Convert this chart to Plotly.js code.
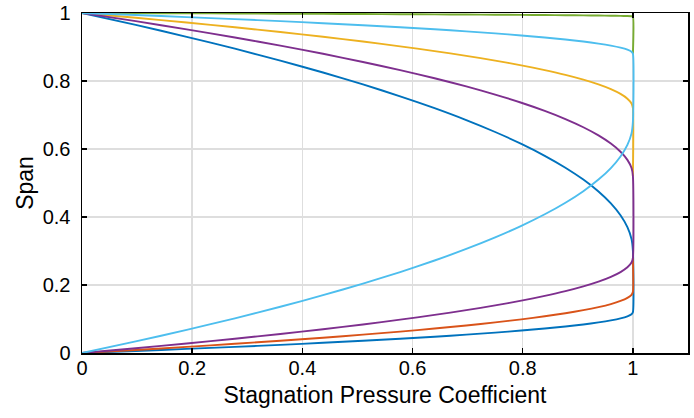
<!DOCTYPE html>
<html>
<head>
<meta charset="utf-8">
<script src="https://cdn.plot.ly/plotly-3.0.1.min.js"></script>
<style>html,body{margin:0;padding:0;background:#fff;}#chart{width:694px;height:418px;}</style>
</head>
<body>
<div id="chart"></div>
<script>
// Stagnation pressure coefficient values along each profile
const profileX = [0, 0.0975, 0.19, 0.2775, 0.36, 0.4375, 0.51, 0.5775, 0.64, 0.6975, 0.75, 0.7975, 0.84, 0.8775, 0.91, 0.9375, 0.96, 0.9775, 0.99, 0.9975, 1];

// Span values, hub-side branches (from 0 at x=0 up to the wall edge at x=1)
const blueHubY   = [0, .006, .012, .018, .024, .03, .036, .042, .048, .054, .06, .066, .072, .078, .084, .09, .096, .102, .108, .114, .12];
const orangeHubY = [0, .009, .018, .027, .036, .045, .054, .063, .072, .081, .09, .099, .108, .117, .126, .135, .144, .153, .162, .171, .18];
const purpleHubY = [0, .014, .028, .042, .056, .07, .084, .098, .112, .126, .14, .154, .168, .182, .196, .21, .224, .238, .252, .266, .28];
const cyanHubY   = [0, .034, .068, .102, .136, .17, .204, .238, .272, .306, .34, .374, .408, .442, .476, .51, .544, .578, .612, .646, .68];

// Span values, tip-side branches (from 1 at x=0 down to the wall edge at x=1)
const blueTipY   = [1, .965, .93, .895, .86, .825, .79, .755, .72, .685, .65, .615, .58, .545, .51, .475, .44, .405, .37, .335, .30];
const yellowTipY = [1, .986, .972, .958, .944, .93, .916, .902, .888, .874, .86, .846, .832, .818, .804, .79, .776, .762, .748, .734, .72];
const purpleTipY = [1, .976, .952, .928, .904, .88, .856, .832, .808, .784, .76, .736, .712, .688, .664, .64, .616, .592, .568, .544, .52];
const greenTipY  = [1, .9995, .999, .9985, .998, .9975, .997, .9965, .996, .9955, .995, .9945, .994, .9935, .993, .9925, .992, .9915, .991, .9905, .99];
const cyanTipY   = [1, .994, .988, .982, .976, .97, .964, .958, .952, .946, .94, .934, .928, .922, .916, .91, .904, .898, .892, .886, .88];

// Visible ends of the vertical segments at x = 1 where a branch is hidden
const orangeVerticalEnd = 0.28;
const yellowVerticalStart = 0.52;
const greenVerticalStart = 0.88;

const xTicks = [0, 0.2, 0.4, 0.6, 0.8, 1];
const xTickText = ['0', '0.2', '0.4', '0.6', '0.8', '1'];
const yTicks = [0, 0.2, 0.4, 0.6, 0.8, 1];
const yTickText = ['0', '0.2', '0.4', '0.6', '0.8', '1'];

const colors = {blue:'#0072BD', orange:'#D95319', yellow:'#EDB120', purple:'#7E2F8E', green:'#77AC30', cyan:'#4DBEEE'};

const revX = profileX.slice().reverse();
function path(hubY, tipY, extraStart, extraEnd) {
  let xs = [], ys = [];
  if (extraStart !== undefined) { xs.push(1); ys.push(extraStart); }
  if (hubY) { xs = xs.concat(profileX); ys = ys.concat(hubY); }
  if (extraEnd !== undefined) { xs.push(1); ys.push(extraEnd); }
  if (tipY) { xs = xs.concat(revX); ys = ys.concat(tipY.slice().reverse()); }
  return {x: xs, y: ys};
}
function trace(p, color) {
  return {x: p.x, y: p.y, type: 'scatter', mode: 'lines',
          line: {color: color, width: 1.9, shape: 'spline', smoothing: 0.6},
          hoverinfo: 'skip', showlegend: false};
}

const data = [
  trace(path(blueHubY, blueTipY), colors.blue),
  trace(path(orangeHubY, null, undefined, orangeVerticalEnd), colors.orange),
  trace(path(null, yellowTipY, yellowVerticalStart), colors.yellow),
  trace(path(purpleHubY, purpleTipY), colors.purple),
  trace(path(null, greenTipY, greenVerticalStart), colors.green),
  trace(path(cyanHubY, cyanTipY), colors.cyan)
];

const FONT = 'Liberation Sans, Arial, sans-serif';
const axisCommon = {
  showline: true, linecolor: '#000', linewidth: 1.5, mirror: 'ticks',
  ticks: 'inside', ticklen: 5, tickwidth: 1.5, tickcolor: '#000',
  showgrid: true, gridcolor: '#dedede', gridwidth: 1.5, zeroline: false,
  tickfont: {family: FONT, size: 20, color: '#000'},
  tickmode: 'array'
};

const layout = {
  width: 694, height: 418,
  margin: {l: 82, r: 6, t: 13, b: 65},
  paper_bgcolor: '#fff', plot_bgcolor: '#fff',
  showlegend: false,
  xaxis: Object.assign({}, axisCommon, {
    range: [0, 1.1], tickvals: xTicks, ticktext: xTickText, ticklabelstandoff: -4,
    title: {text: 'Stagnation Pressure Coefficient', font: {family: FONT, size: 23, color: '#000'}, standoff: 9}
  }),
  yaxis: Object.assign({}, axisCommon, {
    range: [0, 1], tickvals: yTicks, ticktext: yTickText, ticklabelstandoff: 6,
    title: {text: 'Span', font: {family: FONT, size: 23, color: '#000'}, standoff: 2}
  })
};

Plotly.newPlot('chart', data, layout, {displayModeBar: false, staticPlot: true});
</script>
</body>
</html>
